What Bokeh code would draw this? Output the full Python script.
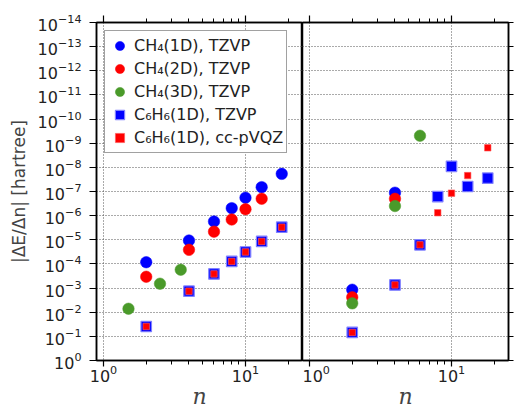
from bokeh.plotting import figure
from bokeh.layouts import row
from bokeh.models import Range1d, LogAxis, FixedTicker, Legend, LegendItem
from bokeh.embed import file_html
from bokeh.resources import INLINE

# ---------------- data ----------------
# left panel
L_ch4_1d_n = [2, 4, 6, 8, 10, 13, 18]
L_ch4_1d_v = [8.5e-5, 1.07e-5, 1.74e-6, 4.9e-7, 1.82e-7, 6.6e-8, 1.86e-8]
L_ch4_2d_n = [2, 4, 6, 8, 10, 13]
L_ch4_2d_v = [3.4e-4, 2.6e-5, 4.6e-6, 1.45e-6, 5.4e-7, 2.0e-7]
L_ch4_3d_n = [1.5, 2.5, 3.5]
L_ch4_3d_v = [7.2e-3, 6.6e-4, 1.74e-4]
L_c6h6_tz_n = [2, 4, 6, 8, 10, 13, 18]
L_c6h6_tz_v = [3.9e-2, 1.35e-3, 2.6e-4, 7.9e-5, 3.2e-5, 1.17e-5, 3.0e-6]
L_c6h6_qz_n = [2, 4, 6, 8, 10, 13, 18]
L_c6h6_qz_v = [3.9e-2, 1.35e-3, 2.6e-4, 7.9e-5, 3.2e-5, 1.17e-5, 3.0e-6]

# right panel
R_ch4_1d_n = [2, 4]
R_ch4_1d_v = [1.17e-3, 1.12e-7]
R_ch4_2d_n = [2, 4]
R_ch4_2d_v = [2.4e-3, 2.0e-7]
R_ch4_3d_n = [2, 4, 6]
R_ch4_3d_v = [4.3e-3, 4.0e-7, 4.9e-10]
R_c6h6_tz_n = [2, 4, 6, 8, 10, 13, 18]
R_c6h6_tz_v = [6.9e-2, 7.4e-4, 1.62e-5, 1.62e-7, 9.1e-9, 6.2e-8, 2.8e-8]
R_c6h6_qz_n = [2, 4, 6, 8, 10, 13, 18]
R_c6h6_qz_v = [6.9e-2, 7.4e-4, 1.62e-5, 7.6e-7, 1.17e-7, 2.2e-8, 1.55e-9]

labels = ["CH\u2084(1D), TZVP", "CH\u2084(2D), TZVP", "CH\u2084(3D), TZVP",
          "C\u2086H\u2086(1D), TZVP", "C\u2086H\u2086(1D), cc-pVQZ"]
y_ticks = [10.0 ** -k for k in range(15)]
x_ticks = [1, 10]
x_minor = [2, 3, 4, 5, 6, 7, 8, 9, 20]

BLUE = "#0000ff"
RED = "#ff0000"
GREEN = "#4a9a2a"
FONT = "DejaVu Sans"
GRID = "#555555"


def style_axis(ax, show_labels=True, tick_out=7):
    ax.axis_line_color = "black"
    ax.axis_line_width = 1.5
    ax.major_tick_line_color = "black"
    ax.major_tick_line_width = 1.2
    ax.minor_tick_line_color = "black"
    ax.minor_tick_line_width = 1.0
    ax.major_tick_in = 0
    ax.major_tick_out = tick_out
    ax.minor_tick_in = 0
    ax.minor_tick_out = 4
    ax.major_label_text_font = FONT
    ax.major_label_text_color = "#222222"
    if show_labels:
        ax.major_label_text_font_size = "16px"
    else:
        ax.major_label_text_font_size = "1px"
        ax.major_label_text_color = None
        ax.major_label_standoff = 0


def make_panel(data, left):
    kw = dict(x_axis_type="log", y_axis_type="log",
              x_range=Range1d(0.893, 25.2), y_range=Range1d(1.0, 1e-14),
              output_backend="svg", toolbar_location=None,
              height=412, min_border_top=22, min_border_bottom=52)
    if left:
        p = figure(width=302, min_border_left=96, min_border_right=0, **kw)
    else:
        p = figure(width=213, min_border_left=0, min_border_right=7,
                   y_axis_location="right", **kw)
    p.background_fill_color = "white"
    p.border_fill_color = "white"
    p.outline_line_color = "black"
    p.outline_line_width = 1.5

    # axes
    xa = p.xaxis[0]
    xa.ticker = FixedTicker(ticks=x_ticks, minor_ticks=x_minor)
    style_axis(xa, tick_out=6)
    xa.major_label_standoff = -2
    xa.axis_label = "n"
    xa.axis_label_text_font = "DejaVu Serif"
    xa.axis_label_text_font_style = "italic"
    xa.axis_label_text_font_size = "22px"
    xa.axis_label_standoff = -1

    ya = p.yaxis[0]
    ya.ticker = FixedTicker(ticks=y_ticks, minor_ticks=[])
    style_axis(ya, show_labels=left, tick_out=7 if left else 5)
    if left:
        ya.major_label_standoff = 8
        ya.axis_label = "|\u0394E/\u0394n| [hartree]"
        ya.axis_label_text_font = FONT
        ya.axis_label_text_font_style = "normal"
        ya.axis_label_text_font_size = "17px"
        ya.axis_label_standoff = 6

    top = LogAxis(ticker=FixedTicker(ticks=x_ticks, minor_ticks=x_minor))
    style_axis(top, show_labels=False)
    p.add_layout(top, "above")

    # grids
    p.xgrid.ticker = FixedTicker(ticks=x_ticks)
    p.ygrid.ticker = FixedTicker(ticks=y_ticks)
    for g in (p.xgrid, p.ygrid):
        g.grid_line_color = GRID
        g.grid_line_dash = "1 2"
        g.grid_line_width = 1
        g.minor_grid_line_color = None

    (n1, v1), (n2, v2), (n3, v3), (n4, v4), (n5, v5) = data
    r1 = p.scatter(n1, v1, marker="circle", size=11.5, fill_color=BLUE, line_color=BLUE, line_width=0.5)
    r2 = p.scatter(n2, v2, marker="circle", size=11.5, fill_color=RED, line_color=RED, line_width=0.5)
    r3 = p.scatter(n3, v3, marker="circle", size=11.5, fill_color=GREEN, line_color=GREEN, line_width=0.5)
    r4 = p.scatter(n4, v4, marker="square", size=10.5, fill_color=BLUE, line_color="#8080ff", line_width=1.2)
    r5 = p.scatter(n5, v5, marker="square", size=6.5, fill_color=RED, line_color="#ff6060", line_width=0.6)

    if left:
        legend = Legend(items=[LegendItem(label=l, renderers=[r]) for l, r in
                               zip(labels, [r1, r2, r3, r4, r5])],
                        location="top_left", margin=8, padding=3, spacing=0,
                        glyph_width=23, glyph_height=23, label_height=23,
                        label_standoff=3,
                        label_text_font=FONT, label_text_font_size="16px",
                        label_text_color="#222222",
                        border_line_color="#444444", border_line_width=1,
                        background_fill_color="white", background_fill_alpha=1.0)
        p.add_layout(legend)
    return p


left = make_panel([(L_ch4_1d_n, L_ch4_1d_v), (L_ch4_2d_n, L_ch4_2d_v), (L_ch4_3d_n, L_ch4_3d_v),
                   (L_c6h6_tz_n, L_c6h6_tz_v), (L_c6h6_qz_n, L_c6h6_qz_v)], True)
right = make_panel([(R_ch4_1d_n, R_ch4_1d_v), (R_ch4_2d_n, R_ch4_2d_v), (R_ch4_3d_n, R_ch4_3d_v),
                    (R_c6h6_tz_n, R_c6h6_tz_v), (R_c6h6_qz_n, R_c6h6_qz_v)], False)

layout = row(left, right, spacing=0)
open("out.html", "w").write(file_html(layout, INLINE))
